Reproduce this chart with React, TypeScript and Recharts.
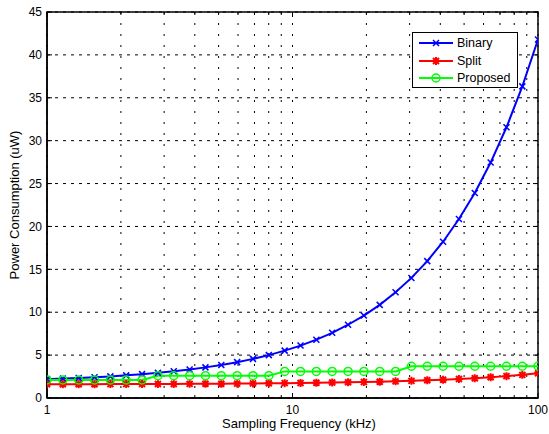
import React from 'react';
import { LineChart, Line, XAxis, YAxis, CartesianGrid, ReferenceArea } from 'recharts';

// sampling frequency (kHz), log spaced 1..100
const freq = [
  1, 1.16, 1.346, 1.562, 1.812, 2.102, 2.439, 2.83, 3.283, 3.81, 4.42, 5.128, 5.95, 6.903, 8.009, 9.292,
  10.78, 12.51, 14.51, 16.84, 19.53, 22.66, 26.29, 30.51, 35.39, 41.06, 47.64, 55.27, 64.13, 74.41, 86.33, 100,
];
const binary = [
  2.2, 2.26, 2.34, 2.42, 2.52, 2.64, 2.78, 2.93, 3.11, 3.32, 3.57, 3.85, 4.18, 4.56, 5.0, 5.52,
  6.11, 6.8, 7.6, 8.54, 9.61, 10.86, 12.32, 14.0, 15.96, 18.22, 20.86, 23.9, 27.45, 31.56, 36.33, 41.8,
];
const split = [
  1.6, 1.6, 1.6, 1.6, 1.62, 1.62, 1.63, 1.63, 1.64, 1.65, 1.66, 1.67, 1.68, 1.7, 1.71, 1.73,
  1.75, 1.77, 1.8, 1.83, 1.86, 1.9, 1.94, 2.0, 2.06, 2.13, 2.21, 2.31, 2.42, 2.55, 2.7, 2.88,
];
const proposed = [
  2.1, 2.1, 2.1, 2.1, 2.1, 2.1, 2.1, 2.6, 2.6, 2.6, 2.6, 2.6, 2.6, 2.6, 2.6, 3.1,
  3.1, 3.1, 3.1, 3.1, 3.1, 3.1, 3.1, 3.7, 3.7, 3.7, 3.7, 3.7, 3.7, 3.7, 3.7, 3.7,
];
const xTicks = [1, 2, 3, 4, 5, 6, 7, 8, 9, 10, 20, 30, 40, 50, 60, 70, 80, 90, 100];
const xLabels = [1, 10, 100];
const yTicks = [0, 5, 10, 15, 20, 25, 30, 35, 40, 45];

const data = freq.map((f, i) => ({ f, binary: binary[i], split: split[i], proposed: proposed[i] }));

const W = 549;
const H = 434;
const PLOT = { left: 47, right: 538, top: 12, bottom: 398 };
const FONT = '"Liberation Sans", Arial, sans-serif';

const XMark = ({ cx, cy }: any) => (
  <path d={`M${cx - 3},${cy - 3}L${cx + 3},${cy + 3}M${cx - 3},${cy + 3}L${cx + 3},${cy - 3}`} stroke="#0000ff" strokeWidth={1.5} fill="none" />
);
const StarMark = ({ cx, cy }: any) => (
  <path
    d={`M${cx - 4},${cy}L${cx + 4},${cy}M${cx},${cy - 4}L${cx},${cy + 4}M${cx - 3},${cy - 3}L${cx + 3},${cy + 3}M${cx - 3},${cy + 3}L${cx + 3},${cy - 3}`}
    stroke="#ff0000"
    strokeWidth={2}
    fill="none"
  />
);
const CircleMark = ({ cx, cy }: any) => <circle cx={cx} cy={cy} r={4} stroke="#00ff00" strokeWidth={1.5} fill="none" />;

const XTick = ({ x, y, payload }: any) => {
  const v = payload.value;
  const major = xLabels.includes(v);
  const len = major ? 5 : 3;
  return (
    <g>
      <line x1={x} x2={x} y1={PLOT.bottom} y2={PLOT.bottom - len} stroke="#000" />
      <line x1={x} x2={x} y1={PLOT.top} y2={PLOT.top + len} stroke="#000" />
      {major && (
        <text x={x} y={y} dy="0.71em" textAnchor="middle" fontSize={12} fontFamily={FONT} fill="#000">
          {v}
        </text>
      )}
    </g>
  );
};

const YTick = ({ x, y, payload }: any) => (
  <g>
    <line x1={PLOT.left} x2={PLOT.left + 5} y1={y} y2={y} stroke="#000" />
    <line x1={PLOT.right - 5} x2={PLOT.right} y1={y} y2={y} stroke="#000" />
    <text x={x} y={y} dy="0.35em" textAnchor="end" fontSize={12} fontFamily={FONT} fill="#000">
      {payload.value}
    </text>
  </g>
);

const legendItems = [
  { name: 'Binary', mark: XMark, color: '#0000ff' },
  { name: 'Split', mark: StarMark, color: '#ff0000' },
  { name: 'Proposed', mark: CircleMark, color: '#00ff00' },
];

const LegendBox = () => (
  <div
    style={{
      position: 'absolute',
      left: 412,
      top: 32,
      width: 104,
      height: 53,
      border: '1.5px solid #000',
      background: '#fff',
      paddingTop: 1,
    }}
  >
    {legendItems.map((it) => (
      <div key={it.name} style={{ display: 'flex', alignItems: 'center', height: 17.7 }}>
        <svg width={44} height={14} style={{ display: 'block' }}>
          <line x1={6} x2={40} y1={7} y2={7} stroke={it.color} strokeWidth={2} />
          <it.mark cx={23} cy={7} />
        </svg>
        <span style={{ fontFamily: FONT, fontSize: 12.5, color: '#000', lineHeight: '14px' }}>{it.name}</span>
      </div>
    ))}
  </div>
);

export default function App() {
  return (
    <div style={{ position: 'absolute', left: 0, top: 0, width: W, height: H, background: '#fff' }}>
      <LineChart
        width={W}
        height={H}
        data={data}
        margin={{ top: PLOT.top, right: W - PLOT.right, bottom: 0, left: 0 }}
      >
        <CartesianGrid horizontal={false} stroke="#000" strokeDasharray="2 9" />
        <CartesianGrid vertical={false} stroke="#000" strokeDasharray="3 5" />
        <XAxis
          dataKey="f"
          type="number"
          scale="log"
          domain={[1, 100]}
          ticks={xTicks}
          interval={0}
          height={H - PLOT.bottom}
          tickLine={false}
          axisLine={{ stroke: '#000', strokeWidth: 1.5 }}
          tickSize={0}
          tickMargin={7}
          tick={<XTick />}
          allowDataOverflow
          label={{
            content: () => (
              <text x={299} y={428} textAnchor="middle" fontSize={13} fontFamily={FONT} fill="#000">
                Sampling Frequency (kHz)
              </text>
            ),
          }}
        />
        <YAxis
          type="number"
          domain={[0, 45]}
          ticks={yTicks}
          interval={0}
          width={PLOT.left}
          tickLine={false}
          axisLine={{ stroke: '#000', strokeWidth: 1.5 }}
          tickSize={0}
          tickMargin={5}
          tick={<YTick />}
          allowDataOverflow
          label={{
            content: () => (
              <text
                x={19}
                y={(PLOT.top + PLOT.bottom) / 2}
                transform={`rotate(-90 19 ${(PLOT.top + PLOT.bottom) / 2})`}
                textAnchor="middle"
                fontSize={13}
                fontFamily={FONT}
                fill="#000"
              >
                Power Consumption (uW)
              </text>
            ),
          }}
        />
        <ReferenceArea x1={1} x2={100} y1={0} y2={45} fill="none" stroke="#000" strokeWidth={1.5} ifOverflow="visible" />
        <Line dataKey="binary" name="Binary" stroke="#0000ff" strokeWidth={2} dot={<XMark />} isAnimationActive={false} />
        <Line dataKey="split" name="Split" stroke="#ff0000" strokeWidth={2} dot={<StarMark />} isAnimationActive={false} />
        <Line dataKey="proposed" name="Proposed" stroke="#00ff00" strokeWidth={2} dot={<CircleMark />} isAnimationActive={false} />
      </LineChart>
      <LegendBox />
    </div>
  );
}
